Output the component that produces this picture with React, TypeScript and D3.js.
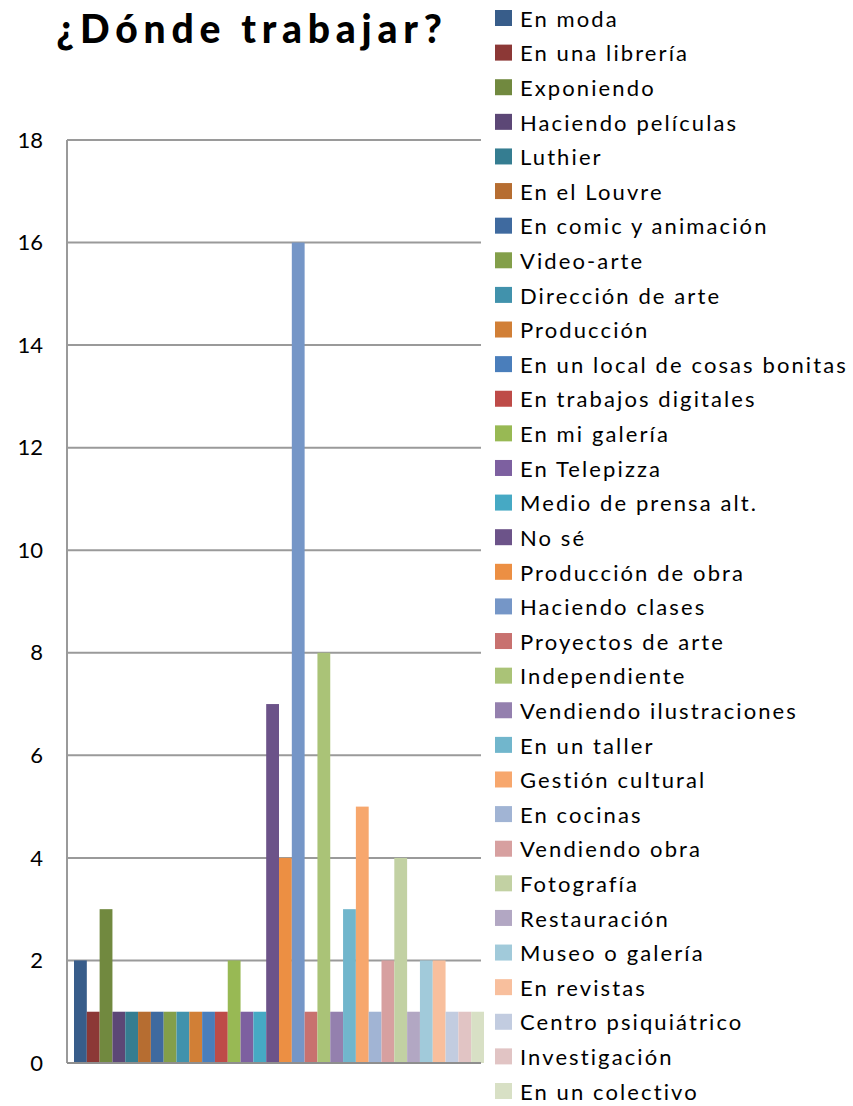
import { useEffect } from 'react';
import * as d3 from 'd3';

const categories = [
  'En moda', 'En una librería', 'Exponiendo', 'Haciendo películas', 'Luthier',
  'En el Louvre', 'En comic y animación', 'Video-arte', 'Dirección de arte', 'Producción',
  'En un local de cosas bonitas', 'En trabajos digitales', 'En mi galería', 'En Telepizza',
  'Medio de prensa alt.', 'No sé', 'Producción de obra', 'Haciendo clases', 'Proyectos de arte',
  'Independiente', 'Vendiendo ilustraciones', 'En un taller', 'Gestión cultural', 'En cocinas',
  'Vendiendo obra', 'Fotografía', 'Restauración', 'Museo o galería', 'En revistas',
  'Centro psiquiátrico', 'Investigación', 'En un colectivo',
];

const values = [2, 1, 3, 1, 1, 1, 1, 1, 1, 1, 1, 1, 2, 1, 1, 7, 4, 16, 1, 8, 1, 3, 5, 1, 2, 4, 1, 2, 2, 1, 1, 1];

const colours = [
  '#385d8a', '#8c3836', '#71893f', '#5c4776', '#357d91', '#b66d31',
  '#3f6a9f', '#839f4a', '#4192ac', '#d17f36', '#4a7ebb', '#be4b48',
  '#98b954', '#7d60a0', '#46a9c4', '#6c5389', '#ec8f43', '#7596c7',
  '#c8716f', '#aac377', '#9480ae', '#71b6cc', '#f7a76d', '#a1b4d4',
  '#d7a0a0', '#c2d1a3', '#b2a7c3', '#a1cada', '#f8bf9d', '#c2cce0',
  '#e1c4c4', '#d8e0c5',
];

const yTicks = [0, 2, 4, 6, 8, 10, 12, 14, 16, 18];

const W = 853;
const H = 1106;
const plot = { left: 67, right: 481, top: 140, bottom: 1063 };
const FONT = 'Lato, "Open Sans", sans-serif';

export default function App() {
  useEffect(() => {
    document.body.style.margin = '0';
  }, []);

  const y = d3.scaleLinear().domain([0, 18]).range([plot.bottom, plot.top]);
  const x = d3.scaleBand<string>()
    .domain(categories)
    .range([plot.left + 7, plot.right + 3])
    .padding(0);
  const legendY = d3.scalePoint<string>()
    .domain(categories)
    .range([19, 1092]);

  return (
    <svg width={W} height={H} style={{ display: 'block', background: '#fff' }}>
      <text
        x={252}
        y={43}
        textAnchor="middle"
        fontFamily={FONT}
        fontWeight={900}
        fontSize={39}
        letterSpacing={5.8}
        fill="#000"
      >
        ¿Dónde trabajar?
      </text>

      {yTicks.map(t => (
        <g key={t}>
          {t > 0 && (
            <line x1={plot.left} x2={plot.right} y1={y(t)} y2={y(t)} stroke="#9a9a9a" strokeWidth={2} />
          )}
          <text
            x={43}
            y={y(t)}
            dy="0.35em"
            textAnchor="end"
            fontFamily={FONT}
            fontSize={22}
            fill="#000"
          >
            {t}
          </text>
        </g>
      ))}

      {categories.map((c, i) => (
        <rect
          key={c}
          x={x(c)}
          y={y(values[i])}
          width={x.bandwidth()}
          height={y(0) - y(values[i])}
          fill={colours[i]}
        />
      ))}

      <line x1={plot.left} x2={plot.left} y1={plot.top} y2={plot.bottom} stroke="#9a9a9a" strokeWidth={2} />
      <line x1={plot.left} x2={plot.right} y1={plot.bottom} y2={plot.bottom} stroke="#8e8e8e" strokeWidth={2} />

      {categories.map((c, i) => (
        <g key={c} transform={`translate(0,${legendY(c)})`}>
          <rect x={495} y={-9} width={17} height={16} fill={colours[i]} />
          <text x={520} y={0} dy="0.35em" fontFamily={FONT} fontSize={22} letterSpacing={2.1} fill="#000">
            {c}
          </text>
        </g>
      ))}
    </svg>
  );
}
